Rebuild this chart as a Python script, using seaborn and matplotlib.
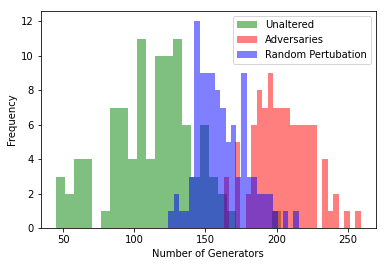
import matplotlib
matplotlib.use("Agg")
import matplotlib.pyplot as plt
import seaborn as sns
import numpy as np
import pandas as pd

# bin ranges (25 bins per series)
unaltered_range = (45, 203)
adversaries_range = (163, 259)
random_range = (124, 215.5)

unaltered_counts = [3, 2, 4, 4, 0, 1, 7, 7, 4, 11, 4, 10, 10, 11, 6,
                    3, 6, 3, 2, 1, 0, 0, 0, 0, 1]
adversaries_counts = [3, 0, 5, 0, 2, 6, 8, 7, 9, 7, 7, 7, 6, 6, 6,
                      6, 6, 0, 4, 1, 2, 0, 1, 0, 1]
random_counts = [1, 2, 1, 1, 3, 12, 9, 9, 9, 8, 7, 5, 6, 3, 9,
                 3, 3, 2, 2, 2, 1, 0, 1, 0, 1]

series = [
    ("Unaltered", unaltered_range, unaltered_counts, "g"),
    ("Adversaries", adversaries_range, adversaries_counts, "r"),
    ("Random Pertubation", random_range, random_counts, "b"),
]

fig = plt.figure(figsize=(386 / 72, 266 / 72), dpi=72)
ax = fig.add_axes([0.1054, 0.1417, 0.8682, 0.8169])

for name, (lo, hi), counts, color in series:
    n = len(counts)
    width = (hi - lo) / n
    df = pd.DataFrame({"value": lo + width * (np.arange(n) + 0.5),
                       "count": counts})
    sns.histplot(data=df, x="value", weights="count", bins=n,
                 binrange=(lo, hi), color=color, alpha=0.5, linewidth=0,
                 label=name, ax=ax)

ax.set_xlabel("Number of Generators")
ax.set_ylabel("Frequency")
ax.legend(loc="upper right")

fig.savefig("out.png", dpi=72)
